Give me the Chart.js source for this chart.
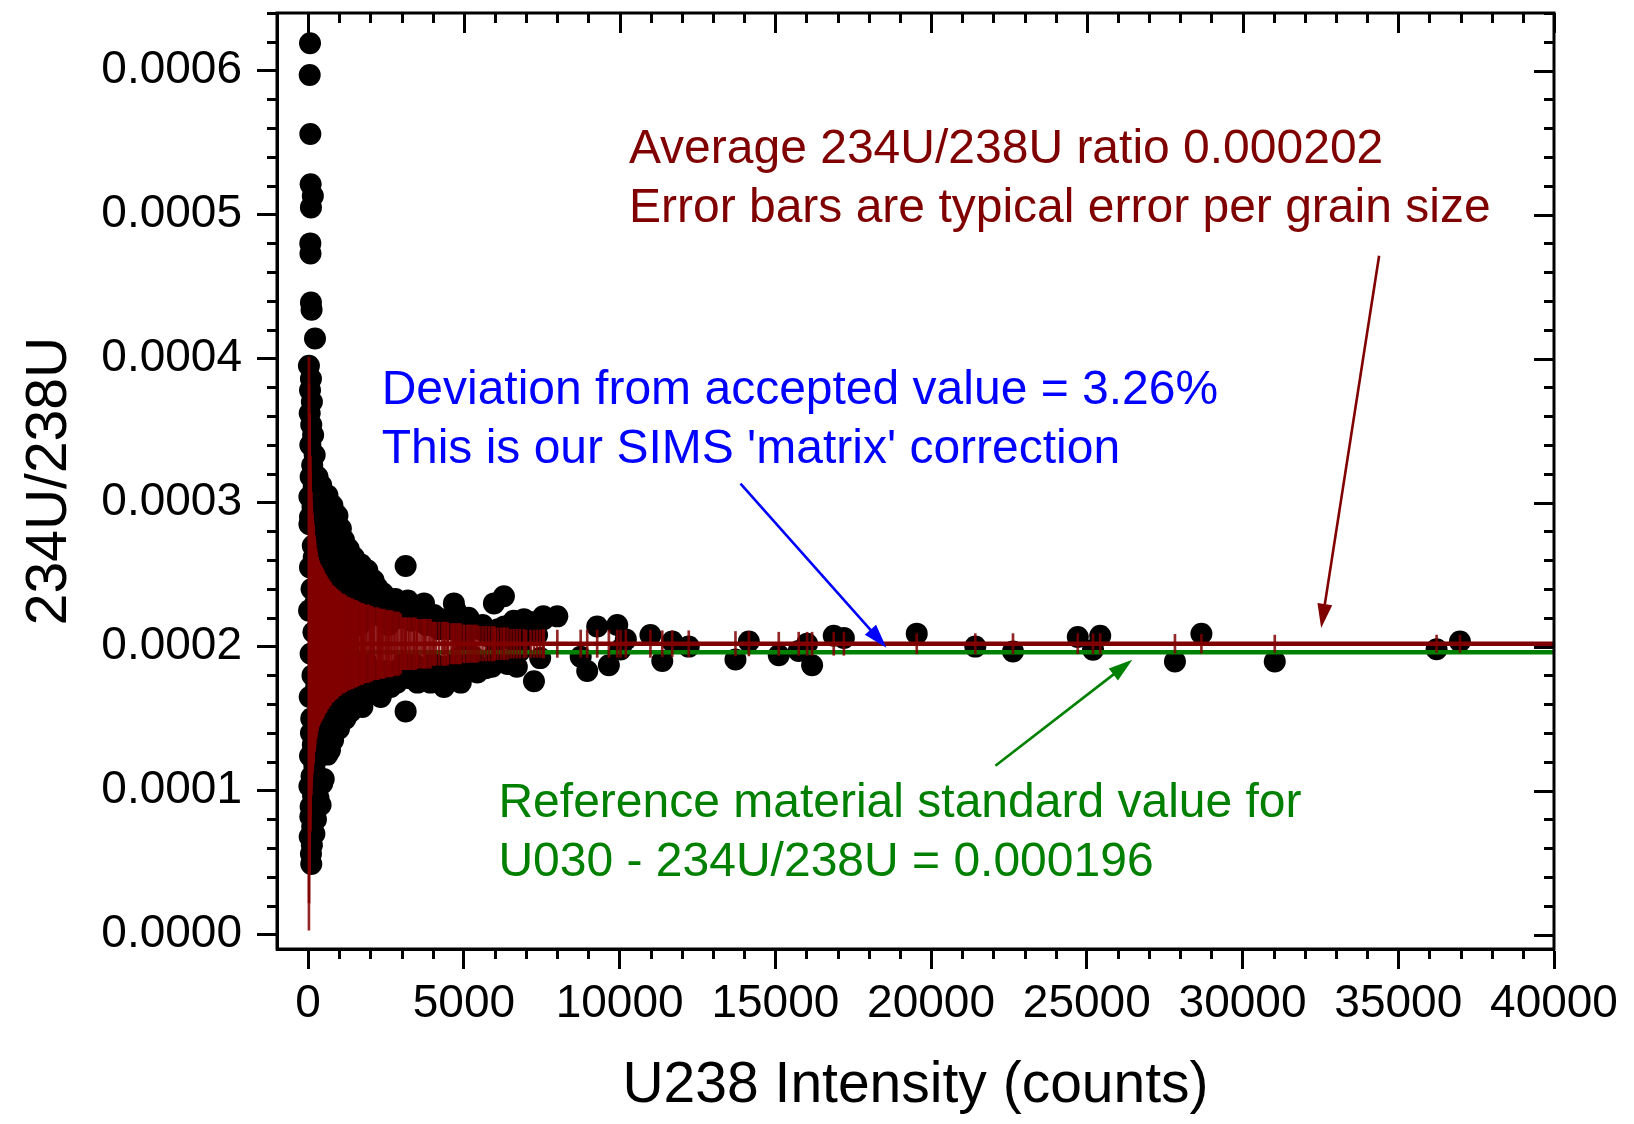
<!DOCTYPE html>
<html>
<head>
<meta charset="utf-8">
<script src="https://cdn.jsdelivr.net/npm/chart.js@4/dist/chart.umd.min.js"></script>
<style>
html,body{margin:0;padding:0;background:#fff;}
#c{display:block;}
</style>
</head>
<body>
<canvas id="c" width="1634" height="1124"></canvas>
<script>
// ---------- DATA ----------
// U238 intensity (counts) of each grain
const counts = [
  // isolated high values at very low counts
  60, 50, 70, 80, 150, 90, 70, 75, 90, 110, 220,
  // dense column at very low counts
  25, 90, 60, 120, 50, 100, 160, 70, 210, 130, 80, 180, 40, 140, 60, 40, 150, 60, 110, 30,
  170, 80, 140, 50, 100, 90, 150, 60, 200, 110, 40, 160, 80, 70, 130, 50, 120, 90, 100,
  // upper edge of the funnel
  300, 420, 620, 780, 940, 1050, 1150, 1300, 1470, 1700, 1900, 2100, 2220, 2400, 2540, 2800, 3130,
  3200, 3500, 3720, 4040, 4300, 4680, 4740, 5100, 5220, 5500, 5965, 6286, 6300, 6000, 7143, 7550, 8000, 6928,
  // inner upper part of the funnel
  250, 350, 450, 550, 600, 700, 800, 900, 1000, 1200, 1400, 1600, 1800, 2000, 2300, 2600, 2900,
  3300, 3800, 4500, 5000, 5800, 6500, 7000,
  // lower edge of the funnel
  250, 400, 500, 618, 800, 990, 1200, 1370, 1600, 1740, 2010, 2275, 2330, 2650, 2970, 3130, 3510,
  3670, 3930, 4360, 4470, 4900, 5430, 5900, 6400, 7250,
  // inner lower part of the funnel
  300, 350, 450, 550, 700, 850, 1100, 1300, 1500, 1800, 2100, 2500, 3000, 3400, 4000, 4800, 5300,
  6000, 6800, 200, 330,
  // sparse high-count grains
  7560, 8750, 8960, 9280, 9655, 9924, 10030, 10200, 10990, 11370, 11690, 12220, 13720, 14150, 15110,
  15750, 16020, 16180, 16875, 17200, 19540, 21420, 22630, 24710, 25200, 25430, 27830, 28680, 31035,
  36230, 36980,
  // grains inside the funnel (mostly hidden under the error bars)
  180, 200, 230, 260, 280, 320, 340, 380, 400, 430, 470, 480, 520, 560, 580, 640, 660, 720, 750, 820,
  860, 920, 960, 1020, 1080, 1130, 1180, 1230, 1280, 1340, 1420, 1450, 1530, 1560, 1650, 1720, 1760, 1850,
  1950, 2050, 2150, 2250, 2360, 2450, 2580, 2700, 2750, 2850, 3050, 3100, 3250, 3380, 3450, 3600, 3750,
  3880, 4100, 4200, 4400, 4600, 4650, 4850, 5000, 5150, 5350, 5600, 5700, 6100, 6200, 6600, 6700, 7350, 7450,
  400, 700, 1000, 1350, 1750, 450, 700, 1000
];
// 234U/238U ratio of each grain
const ratios = [
  0.000619, 0.000597, 0.000556, 0.000521, 0.000513, 0.000505, 0.000480, 0.000473, 0.000439, 0.000434, 0.000414,
  0.000395, 0.000386, 0.000378, 0.000370, 0.000362, 0.000354, 0.000347, 0.000340, 0.000333, 0.000326, 0.000318,
  0.000311, 0.000304, 0.000297, 0.000290, 0.000285, 0.000270, 0.000255, 0.000240, 0.000225, 0.000210, 0.000195,
  0.000180, 0.000165, 0.000150, 0.000140, 0.000132, 0.000124, 0.000117, 0.000110, 0.000103, 0.000096, 0.000089,
  0.000082, 0.000075, 0.000068, 0.000062, 0.000056, 0.000049,
  0.000318, 0.000312, 0.000305, 0.000298, 0.000291, 0.000282, 0.000274, 0.000268, 0.000262, 0.000257, 0.000253,
  0.000246, 0.000241, 0.000237, 0.000234, 0.000233, 0.000256, 0.000232, 0.000228, 0.000230, 0.000222, 0.000219,
  0.000230, 0.000225, 0.000211, 0.000215, 0.000212, 0.000230, 0.000235, 0.000214, 0.000208, 0.000217, 0.000221,
  0.000221, 0.000219,
  0.000300, 0.000295, 0.000283, 0.000290, 0.000270, 0.000260, 0.000275, 0.000250, 0.000262, 0.000250, 0.000243,
  0.000238, 0.000232, 0.000228, 0.000225, 0.000222, 0.000220, 0.000218, 0.000215, 0.000212, 0.000205, 0.000207,
  0.000205, 0.000210,
  0.000080, 0.000090, 0.000108, 0.000125, 0.000135, 0.000143, 0.000150, 0.000155, 0.000159, 0.000158, 0.000168,
  0.000168, 0.000165, 0.000172, 0.000182, 0.000155, 0.000175, 0.000179, 0.000175, 0.000172, 0.000177, 0.000175,
  0.000182, 0.000186, 0.000188, 0.000176,
  0.000110, 0.000130, 0.000125, 0.000140, 0.000148, 0.000155, 0.000160, 0.000165, 0.000170, 0.000175, 0.000178,
  0.000183, 0.000186, 0.000188, 0.000189, 0.000192, 0.000193, 0.000195, 0.000197, 0.000070, 0.000095,
  0.000219, 0.000193, 0.000183, 0.000214, 0.000187, 0.000215, 0.000198, 0.000205, 0.000208, 0.000190, 0.0002035,
  0.000200, 0.000191, 0.0002035, 0.000194, 0.000197, 0.000202, 0.000187, 0.0002075, 0.000206, 0.000209, 0.000200,
  0.0001966, 0.0002066, 0.0001978, 0.0002075, 0.0001896, 0.0002089, 0.0001896, 0.0001982, 0.0002035,
  0.000262, 0.000148, 0.000230, 0.000172, 0.000255, 0.000140, 0.000215, 0.000265, 0.000160, 0.000238, 0.000150,
  0.000190, 0.000250, 0.000170, 0.000225, 0.000158, 0.000245, 0.000185, 0.000232, 0.000165, 0.000255, 0.000178,
  0.000222, 0.000168, 0.000240, 0.000190, 0.000172, 0.000232, 0.000210, 0.000176, 0.000228, 0.000162, 0.000245,
  0.000183, 0.000215, 0.000168, 0.000240, 0.000190, 0.000235, 0.000176, 0.000222, 0.000183, 0.000236, 0.000172,
  0.000215, 0.000180, 0.000226, 0.000175, 0.000228, 0.000190, 0.000178, 0.000224, 0.000182, 0.000220, 0.000185,
  0.000222, 0.000182, 0.000212, 0.000186, 0.000218, 0.000180, 0.000210, 0.000183, 0.000220, 0.000188, 0.000215,
  0.000185, 0.000212, 0.000190, 0.000218, 0.000186, 0.000208, 0.000192,
  0.000300, 0.000285, 0.000275, 0.000258, 0.000248, 0.000105, 0.000128, 0.000150
];
// typical error (half length of the error bar) for each grain size
const errors = [
  0.00013, 0.00014, 0.00012, 0.00011, 0.000085, 0.000105, 0.00012, 0.000115, 0.000105, 0.000095, 0.000072,
  0.000199, 0.000105, 0.00013, 0.000095, 0.00014, 0.0001, 0.000083, 0.00012, 0.000074, 0.00009, 0.00011,
  0.00008, 0.00016, 0.000088, 0.00013, 0.00016, 0.000085, 0.00013, 0.000095, 0.00018, 0.000082, 0.00011,
  0.000088, 0.00014, 0.0001, 0.000105, 0.000085, 0.00013, 0.000075, 0.000095, 0.00016, 0.000083, 0.00011,
  0.00012, 0.00009, 0.00014, 0.000092, 0.000105, 0.0001,
  0.00006, 0.000053, 0.000045, 0.00004, 0.000037, 0.000035, 0.000034, 0.000032, 0.00003, 0.000028, 0.000027,
  0.000025, 0.000025, 0.000024, 0.000023, 0.000022, 0.000018, 0.000018, 0.000017, 0.000017, 0.000015, 0.000015,
  0.000014, 0.000014, 0.000013, 0.000013, 0.000012, 0.000012, 0.000011, 0.000011, 0.000011, 0.0000095, 0.0000095,
  0.0000095, 0.00001,
  0.000065, 0.000056, 0.000052, 0.000048, 0.000046, 0.000043, 0.00004, 0.000038, 0.000036, 0.000033, 0.000031,
  0.000029, 0.000027, 0.000026, 0.000024, 0.000023, 0.000022, 0.000018, 0.000017, 0.000014, 0.000013, 0.000012,
  0.00001, 0.0000095,
  0.000065, 0.000054, 0.00005, 0.000045, 0.00004, 0.000036, 0.000033, 0.000031, 0.000029, 0.000028, 0.000026,
  0.000024, 0.000024, 0.000023, 0.000021, 0.000018, 0.000017, 0.000017, 0.000017, 0.000015, 0.000015, 0.000014,
  0.000013, 0.000012, 0.000011, 0.0000095,
  0.00006, 0.000056, 0.000052, 0.000048, 0.000043, 0.000039, 0.000034, 0.000032, 0.00003, 0.000027, 0.000025,
  0.000023, 0.000018, 0.000018, 0.000015, 0.000014, 0.000013, 0.000011, 0.00001, 0.000075, 0.000057,
  0.00001, 0.0000095, 0.0000095, 0.0000095, 0.0000095, 0.0000095, 0.0000095, 0.0000095, 0.0000095, 0.000009, 0.000009,
  0.000009, 0.0000085, 0.0000085, 0.000008, 0.000008, 0.000008, 0.000008, 0.000008, 0.000008, 0.000007, 0.000007,
  0.000007, 0.000007, 0.000007, 0.000007, 0.0000065, 0.0000065, 0.000006, 0.000006, 0.000006,
  0.00008, 0.000075, 0.00007, 0.000066, 0.000063, 0.000058, 0.000057, 0.000055, 0.000054, 0.000053, 0.000051,
  0.000051, 0.000049, 0.000047, 0.000047, 0.000045, 0.000044, 0.000042, 0.000041, 0.00004, 0.000039, 0.000038,
  0.000037, 0.000036, 0.000035, 0.000034, 0.000034, 0.000033, 0.000032, 0.000032, 0.000031, 0.000031, 0.00003,
  0.00003, 0.000029, 0.000028, 0.000028, 0.000027, 0.000027, 0.000026, 0.000025, 0.000025, 0.000024, 0.000024,
  0.000023, 0.000023, 0.000022, 0.000022, 0.000018, 0.000018, 0.000018, 0.000018, 0.000018, 0.000017, 0.000017,
  0.000017, 0.000015, 0.000015, 0.000015, 0.000014, 0.000014, 0.000014, 0.000013, 0.000013, 0.000013, 0.000012,
  0.000012, 0.000011, 0.000011, 0.00001, 0.00001, 0.0000095, 0.0000095,
  0.000054, 0.000043, 0.000036, 0.000031, 0.000028, 0.000052, 0.000043, 0.000036
];
const averageRatio = 0.000202;   // Average 234U/238U ratio
const standardRatio = 0.000196;  // U030 reference value
const lineXRange = [0, 40000];
const xTickValues = [0, 5000, 10000, 15000, 20000, 25000, 30000, 35000, 40000];
const yTickValues = [0, 0.0001, 0.0002, 0.0003, 0.0004, 0.0005, 0.0006];
const xTitle = 'U238 Intensity (counts)';
const yTitle = '234U/238U';

// ---------- annotations (in data units) ----------
const FONT = "'Liberation Sans', Arial, Helvetica, sans-serif";
const RED = '#800000', BLUE = '#0000ff', GREEN = '#008000';
const notes = [
  { text: 'Average 234U/238U ratio 0.000202', x: 10300, y: 0.0005356, color: RED },
  { text: 'Error bars are typical error per grain size', x: 10300, y: 0.0004950, color: RED },
  { text: 'Deviation from accepted value = 3.26%', x: 2360, y: 0.0003686, color: BLUE },
  { text: "This is our SIMS 'matrix' correction", x: 2360, y: 0.0003276, color: BLUE },
  { text: 'Reference material standard value for', x: 6110, y: 0.0000818, color: GREEN },
  { text: 'U030 - 234U/238U = 0.000196', x: 6110, y: 0.0000408, color: GREEN }
];
const arrows = [
  { from: [34385, 0.0004714], to: [32524, 0.000213], color: RED },
  { from: [13881, 0.0003131], to: [18566, 0.0001992], color: BLUE },
  { from: [22066, 0.0001172], to: [26462, 0.0001908], color: GREEN }
];

const points = counts.map((c, i) => ({ x: c, y: ratios[i] }));
const errorBars = counts.map((c, i) => ({ x: c, y: [averageRatio - errors[i], averageRatio + errors[i]] }));

function drawArrow(ctx, x1, y1, x2, y2, color) {
  const ang = Math.atan2(y2 - y1, x2 - x1);
  const hl = 24, hw = 7.5;
  const c = Math.cos(ang), s = Math.sin(ang);
  ctx.strokeStyle = color;
  ctx.fillStyle = color;
  ctx.lineWidth = 2.6;
  ctx.beginPath();
  ctx.moveTo(x1, y1);
  ctx.lineTo(x2 - hl * 0.8 * c, y2 - hl * 0.8 * s);
  ctx.stroke();
  ctx.beginPath();
  ctx.moveTo(x2, y2);
  ctx.lineTo(x2 - hl * c + hw * s, y2 - hl * s - hw * c);
  ctx.lineTo(x2 - hl * c - hw * s, y2 - hl * s + hw * c);
  ctx.closePath();
  ctx.fill();
}

const decor = {
  id: 'decor',
  afterDraw(chart) {
    const { ctx, chartArea: a } = chart;
    const xs = chart.scales.x, ys = chart.scales.y;
    ctx.save();
    // frame
    ctx.strokeStyle = '#000';
    ctx.lineWidth = 3;
    ctx.strokeRect(a.left, a.top, a.right - a.left, a.bottom - a.top);
    // minor ticks and mirrored ticks
    ctx.beginPath();
    for (let k = 0; k <= 40; k++) {
      const v = k * 1000;
      const px = Math.round(xs.getPixelForValue(v)) + 0.5;
      const major = (k % 5 === 0);
      const L = major ? 20 : 10;
      if (!major) { ctx.moveTo(px, a.bottom); ctx.lineTo(px, a.bottom + L); }
      ctx.moveTo(px, a.top); ctx.lineTo(px, a.top + L);
    }
    for (let k = 0; k <= 32; k++) {
      const v = k * 0.00002;
      const py = Math.round(ys.getPixelForValue(v)) + 0.5;
      const major = (k % 5 === 0);
      const L = major ? 20 : 10;
      if (!major) { ctx.moveTo(a.left, py); ctx.lineTo(a.left - L, py); }
      ctx.moveTo(a.right, py); ctx.lineTo(a.right - L, py);
    }
    ctx.stroke();
    // notes
    ctx.font = '48px ' + FONT;
    ctx.textAlign = 'left';
    ctx.textBaseline = 'alphabetic';
    notes.forEach(n => {
      ctx.fillStyle = n.color;
      ctx.fillText(n.text, xs.getPixelForValue(n.x), ys.getPixelForValue(n.y));
    });
    arrows.forEach(ar => {
      drawArrow(ctx,
        xs.getPixelForValue(ar.from[0]), ys.getPixelForValue(ar.from[1]),
        xs.getPixelForValue(ar.to[0]), ys.getPixelForValue(ar.to[1]), ar.color);
    });
    ctx.restore();
  }
};

new Chart(document.getElementById('c'), {
  type: 'scatter',
  data: {
    datasets: [
      {
        type: 'bar',
        label: 'error',
        data: errorBars,
        backgroundColor: 'rgba(128,0,0,0.85)',
        borderWidth: 0,
        barThickness: 2,
        order: 1
      },
      {
        type: 'line',
        label: 'average',
        data: lineXRange.map(x => ({ x, y: averageRatio })),
        borderColor: RED,
        borderWidth: 4.5,
        pointRadius: 0,
        fill: false,
        order: 2
      },
      {
        type: 'line',
        label: 'standard',
        data: lineXRange.map(x => ({ x, y: standardRatio })),
        borderColor: GREEN,
        borderWidth: 4.5,
        pointRadius: 0,
        fill: false,
        order: 3
      },
      {
        type: 'scatter',
        label: 'grains',
        data: points,
        backgroundColor: '#000',
        borderWidth: 0,
        pointRadius: 11,
        order: 4
      }
    ]
  },
  options: {
    responsive: false,
    animation: false,
    devicePixelRatio: 1,
    layout: { padding: { left: 0, right: 80, top: 13, bottom: 0 } },
    plugins: { legend: { display: false }, tooltip: { enabled: false } },
    scales: {
      x: {
        type: 'linear',
        min: -1000,
        max: 40000,
        offset: false,
        afterBuildTicks: s => { s.ticks = xTickValues.map(v => ({ value: v })); },
        afterFit: s => { s.height = 175; s.paddingLeft = 0; s.paddingRight = 0; },
        grid: { display: true, offset: false, drawOnChartArea: false, drawTicks: true, tickLength: 20, tickWidth: 3, tickColor: '#000' },
        border: { display: true, width: 3, color: '#000' },
        ticks: { font: { family: FONT, size: 46 }, color: '#000', padding: 8, maxRotation: 0, autoSkip: false,
                 callback: v => String(v) },
        title: { display: true, text: xTitle, font: { family: FONT, size: 57 }, color: '#000', padding: { top: 0, bottom: 4 } }
      },
      y: {
        type: 'linear',
        min: -0.00001,
        max: 0.00064,
        offset: false,
        afterBuildTicks: s => { s.ticks = yTickValues.map(v => ({ value: v })); },
        afterFit: s => { s.width = 277; s.paddingTop = 0; s.paddingBottom = 0; },
        grid: { display: true, offset: false, drawOnChartArea: false, drawTicks: true, tickLength: 20, tickWidth: 3, tickColor: '#000' },
        border: { display: true, width: 3, color: '#000' },
        ticks: { font: { family: FONT, size: 46 }, color: '#000', padding: 15, autoSkip: false,
                 callback: v => v.toFixed(4) },
        title: { display: true, text: yTitle, font: { family: FONT, size: 57 }, color: '#000', padding: { top: 16, bottom: 0 } }
      }
    }
  },
  plugins: [decor]
});
</script>
</body>
</html>
